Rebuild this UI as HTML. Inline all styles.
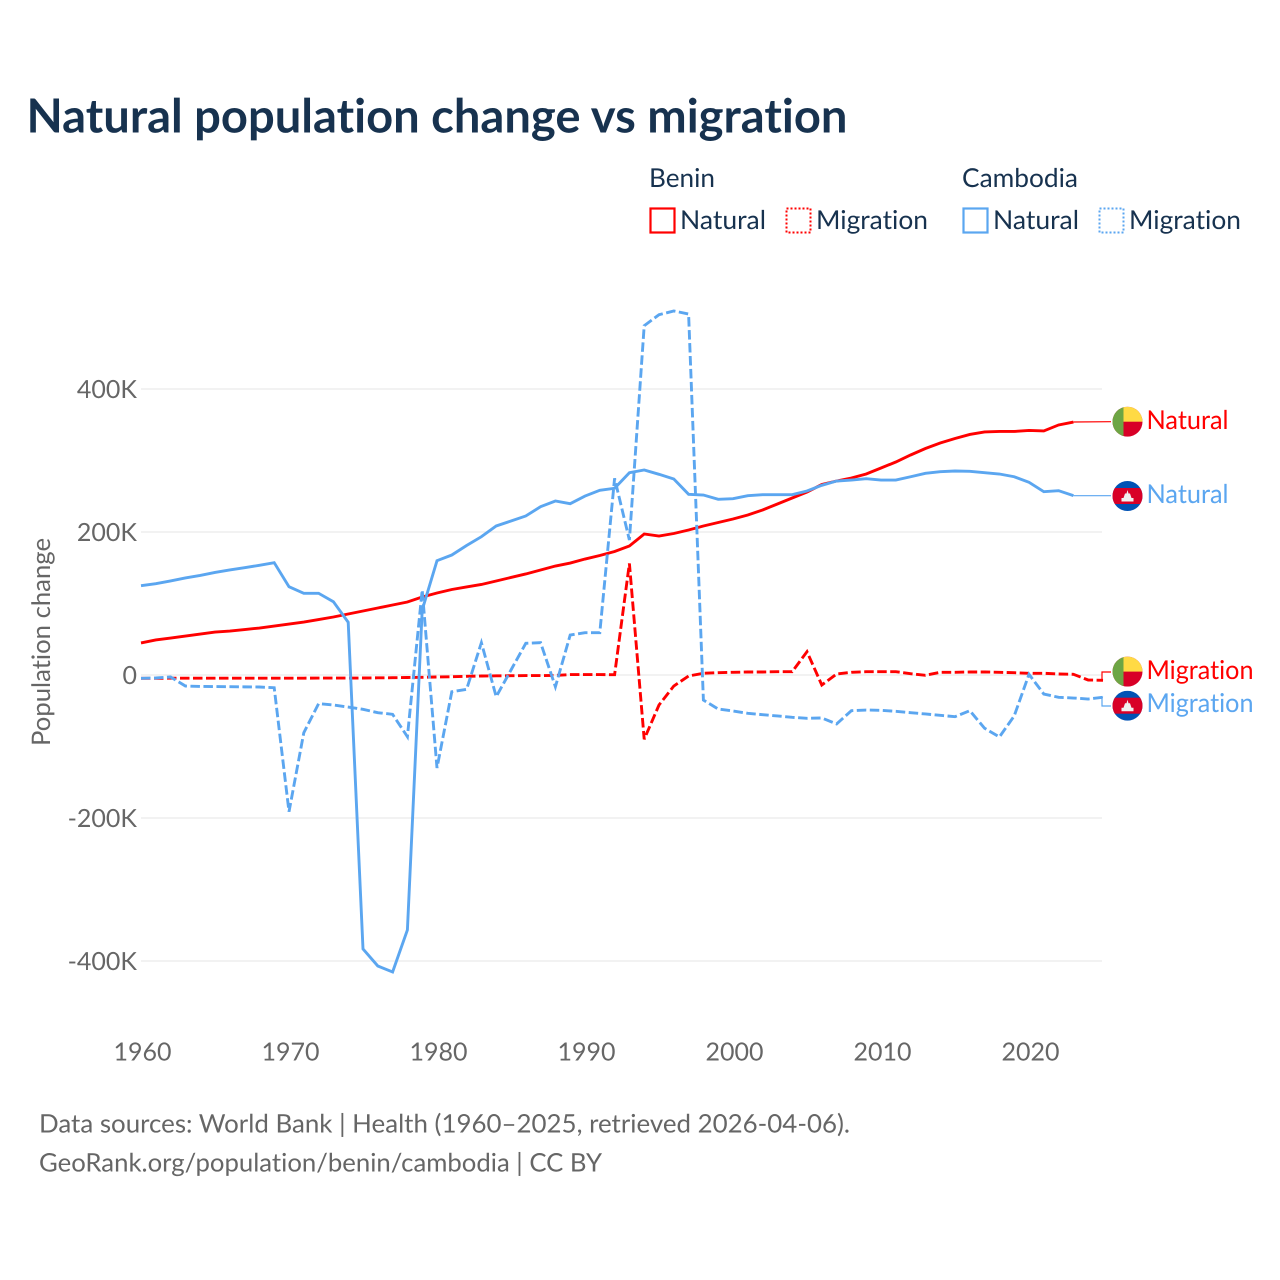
<!DOCTYPE html>
<html lang="en">
<head>
<meta charset="utf-8">
<title>Natural population change vs migration</title>
<style>
html,body{margin:0;padding:0;background:#fff;}
svg{display:block;}
text{font-family:"Lato","Carlito","Liberation Sans",sans-serif;font-variant-ligatures:none;text-rendering:geometricPrecision;}
</style>
</head>
<body>
<svg id="chart" xmlns="http://www.w3.org/2000/svg" width="1280" height="1280" viewBox="0 0 1280 1280">
  <defs>
    <clipPath id="flag-clip"><circle cx="0" cy="0" r="15"/></clipPath>
  </defs>
  <rect x="0" y="0" width="1280" height="1280" fill="#fff"/>
  <text x="26.5" y="132.5" font-size="47" font-weight="700" fill="#17324f" textLength="821" lengthAdjust="spacingAndGlyphs">Natural population change vs migration</text>

  <g font-size="26" fill="#17324f">
    <text x="649" y="187" textLength="66" lengthAdjust="spacingAndGlyphs">Benin</text>
    <text x="962" y="187" textLength="116" lengthAdjust="spacingAndGlyphs">Cambodia</text>
    <rect x="650.5" y="208.5" width="24" height="24" fill="none" stroke="#ff0000" stroke-width="2.2"/>
    <text x="680" y="229" textLength="86" lengthAdjust="spacingAndGlyphs">Natural</text>
    <rect x="786.5" y="208.5" width="24" height="24" fill="none" stroke="#ff0000" stroke-width="2" stroke-dasharray="2 2"/>
    <text x="816" y="229" textLength="112" lengthAdjust="spacingAndGlyphs">Migration</text>
    <rect x="963.5" y="208.5" width="24" height="24" fill="none" stroke="#5ba6f0" stroke-width="2.2"/>
    <text x="993" y="229" textLength="86" lengthAdjust="spacingAndGlyphs">Natural</text>
    <rect x="1099.5" y="208.5" width="24" height="24" fill="none" stroke="#5ba6f0" stroke-width="2" stroke-dasharray="2 2"/>
    <text x="1129" y="229" textLength="112" lengthAdjust="spacingAndGlyphs">Migration</text>
  </g>

  <g id="grid"></g>
  <g id="yticks" font-size="25" fill="#666" text-anchor="end"></g>
  <g id="xticks" font-size="25" fill="#666" text-anchor="middle"></g>
  <text transform="translate(50,642) rotate(-90)" font-size="25.5" fill="#666" text-anchor="middle" textLength="208" lengthAdjust="spacingAndGlyphs">Population change</text>

  <g id="series"></g>

  <g>
    <g transform="translate(1127.5,421.7)" clip-path="url(#flag-clip)">
      <rect x="-15" y="-15" width="30" height="30" fill="#d80027"/>
      <rect x="-4" y="-15" width="19" height="15" fill="#ffda44"/>
      <rect x="-15" y="-15" width="11" height="30" fill="#6da544"/>
    </g>
    <text x="1146.5" y="429" font-size="26" fill="#ff0000" textLength="82" lengthAdjust="spacingAndGlyphs">Natural</text>
  </g>
  <g>
    <g transform="translate(1127.5,496)" clip-path="url(#flag-clip)">
      <rect x="-15" y="-15" width="30" height="30" fill="#0052b4"/>
      <rect x="-15" y="-8" width="30" height="16" fill="#d80027"/>
      <path d="M-6 5.5 L-6 2 L-4 2 L-2.5 -2.5 L-1 -2.5 L0 -6 L1 -2.5 L2.5 -2.5 L4 2 L6 2 L6 5.5 Z" fill="#f0f0f0"/>
    </g>
    <text x="1146.5" y="503" font-size="26" fill="#5ba6f0" textLength="82" lengthAdjust="spacingAndGlyphs">Natural</text>
  </g>
  <g>
    <g transform="translate(1127.5,671.6)" clip-path="url(#flag-clip)">
      <rect x="-15" y="-15" width="30" height="30" fill="#d80027"/>
      <rect x="-4" y="-15" width="19" height="15" fill="#ffda44"/>
      <rect x="-15" y="-15" width="11" height="30" fill="#6da544"/>
    </g>
    <text x="1146.5" y="679" font-size="26" fill="#ff0000" textLength="107" lengthAdjust="spacingAndGlyphs">Migration</text>
  </g>
  <g>
    <g transform="translate(1127.5,705.7)" clip-path="url(#flag-clip)">
      <rect x="-15" y="-15" width="30" height="30" fill="#0052b4"/>
      <rect x="-15" y="-8" width="30" height="16" fill="#d80027"/>
      <path d="M-6 5.5 L-6 2 L-4 2 L-2.5 -2.5 L-1 -2.5 L0 -6 L1 -2.5 L2.5 -2.5 L4 2 L6 2 L6 5.5 Z" fill="#f0f0f0"/>
    </g>
    <text x="1146.5" y="712" font-size="26" fill="#5ba6f0" textLength="107" lengthAdjust="spacingAndGlyphs">Migration</text>
  </g>

  <text x="39" y="1132.5" font-size="25.5" fill="#666" textLength="811" lengthAdjust="spacingAndGlyphs">Data sources: World Bank | Health (1960–2025, retrieved 2026-04-06).</text>
  <text x="39" y="1171.5" font-size="25.5" fill="#666" textLength="563" lengthAdjust="spacingAndGlyphs">GeoRank.org/population/benin/cambodia | CC BY</text>
</svg>

<script>
const startYear = 1960;
const xTickYears = [1960, 1970, 1980, 1990, 2000, 2010, 2020];
const yTickValues = [400, 200, 0, -200, -400];
const yTickLabels = ["400K", "200K", "0", "-200K", "-400K"];

const beninNatural = [44.8,49,51.7,54.5,57.3,60.1,61.5,63.6,65.7,68.5,71.3,74.1,77.6,81.1,85.3,89.5,93.7,97.9,102.1,109.1,114.7,119.6,123.1,126.6,131.5,136.4,141.3,146.9,152.4,156.6,162.2,167.1,172.7,180.4,197.2,194.4,197.9,202.8,208.4,213.3,218.2,223.8,230.8,239.2,247.6,255.9,266.4,271.3,275.5,281.1,289.5,297.9,307.7,316.8,324.5,330.8,336.4,339.9,340.6,340.6,342,341.3,349.7,353.8];
const beninMigration = [-4.6,-4.6,-4.5,-4.5,-4.5,-4.5,-4.5,-4.5,-4.4,-4.4,-4.4,-4.4,-4.3,-4.3,-4.3,-4.2,-4,-3.8,-3.5,-3.2,-2.8,-2.4,-1.8,-1.4,-1.2,-1,-0.8,-0.8,-0.6,0.6,0.6,0.6,0.4,156,-89.9,-42,-15.4,-1.4,2.4,3.2,3.8,4.2,4.2,4.6,4.6,32.6,-14,1.4,3.8,4.6,4.6,4.6,1.8,-0.4,3.8,3.8,4.2,4.2,3.8,3.2,2.4,2.4,1.4,1,-7,-7.4];
const cambodiaNatural = [124.9,127.7,131.5,135.7,139.2,143.4,146.9,150.1,153.4,157.1,123.5,114.3,114.3,102.5,73.7,-383.2,-407,-415.4,-356.6,90.9,159.9,167.8,181.1,193.4,208.4,215.4,222.4,235.4,243.4,239.6,250.3,258.3,261.1,282.9,286.7,280.7,274.1,252.7,251.7,245.7,246.6,250.8,252.2,252.2,252.2,257.3,265.3,271.3,272.7,274.5,272.7,272.7,277.3,282.1,284.3,285.3,284.9,282.9,281.1,277.3,269.5,256.4,257.8,250.8];
const cambodiaMigration = [-4.6,-4.2,-2.8,-15.4,-16,-16.2,-16.4,-16.6,-16.8,-17.8,-191.2,-80.7,-40.1,-42,-44.8,-48,-52.7,-55,-86.3,118.9,-130.1,-23.4,-20,45.2,-30.3,7,44.3,45.2,-16.4,55.9,59.2,59.2,275.1,188.8,488.5,503.9,509.1,504.9,-35,-47.6,-50.3,-53.6,-55.5,-57.3,-59.2,-60.6,-60.1,-68.5,-49.9,-49,-49.4,-50.8,-52.7,-54.5,-56.4,-58.3,-49.9,-74.5,-86.7,-57.3,1,-26.6,-31.2,-32.2,-33.6,-31.2];

const NS = "http://www.w3.org/2000/svg";
const plotLeft = 141, plotRight = 1102;
const xScale = function (year) { return 141 + (year - 1960) * 14.8; };
const yScale = function (value) { return 675 - value * 0.715; };

const gridGroup = document.getElementById("grid");
const yTickGroup = document.getElementById("yticks");
const xTickGroup = document.getElementById("xticks");
const seriesGroup = document.getElementById("series");

yTickValues.forEach(function (value, i) {
  const line = document.createElementNS(NS, "line");
  
  
  line.setAttribute("x1", plotLeft);
  line.setAttribute("x2", plotRight);
  line.setAttribute("y1", yScale(value));
  line.setAttribute("y2", yScale(value));
  line.setAttribute("stroke", "#e9e9e9");
  line.setAttribute("stroke-width", "1.2");
  gridGroup.appendChild(line);

  const label = document.createElementNS(NS, "text");
  
  
  label.setAttribute("x", 137);
  label.setAttribute("y", yScale(value) + 9);
  label.textContent = yTickLabels[i];
  yTickGroup.appendChild(label);
});

xTickYears.forEach(function (year) {
  const label = document.createElementNS(NS, "text");
  
  
  label.setAttribute("x", xScale(year) + 1.5);
  label.setAttribute("y", 1060.5);
  label.textContent = String(year);
  xTickGroup.appendChild(label);
});

function linePath(values) {
  return values.map(function (value, i) {
    return (i ? "L" : "M") + xScale(startYear + i).toFixed(2) + " " + yScale(value).toFixed(2);
  }).join(" ");
}

function drawSeries(name, values, color, dash, connectorTail) {
  const path = document.createElementNS(NS, "path");
  
  
  path.setAttribute("d", linePath(values));
  path.setAttribute("fill", "none");
  path.setAttribute("stroke", color);
  path.setAttribute("stroke-width", "2.9");
  path.setAttribute("stroke-linejoin", "miter");
  if (dash) path.setAttribute("stroke-dasharray", dash);
  seriesGroup.appendChild(path);

  const lastIndex = values.length - 1;
  const endX = xScale(startYear + lastIndex);
  const endY = yScale(values[lastIndex]);
  const connector = document.createElementNS(NS, "path");
  
  
  connector.setAttribute("d", "M" + endX + " " + endY + connectorTail);
  connector.setAttribute("fill", "none");
  connector.setAttribute("stroke", color);
  connector.setAttribute("stroke-width", "1.2");
  seriesGroup.appendChild(connector);
}

drawSeries("line-benin-natural", beninNatural, "#ff0000", null, " L1111 421.7");
drawSeries("line-benin-migration", beninMigration, "#ff0000", "9.5 3.5", " L1102 680 L1102 672 L1111 672");
drawSeries("line-cambodia-natural", cambodiaNatural, "#5ba6f0", null, " L1111 495.7");
drawSeries("line-cambodia-migration", cambodiaMigration, "#5ba6f0", "9.5 3.5", " L1102 697 L1102 706 L1111 706");
</script>
</body>
</html>
